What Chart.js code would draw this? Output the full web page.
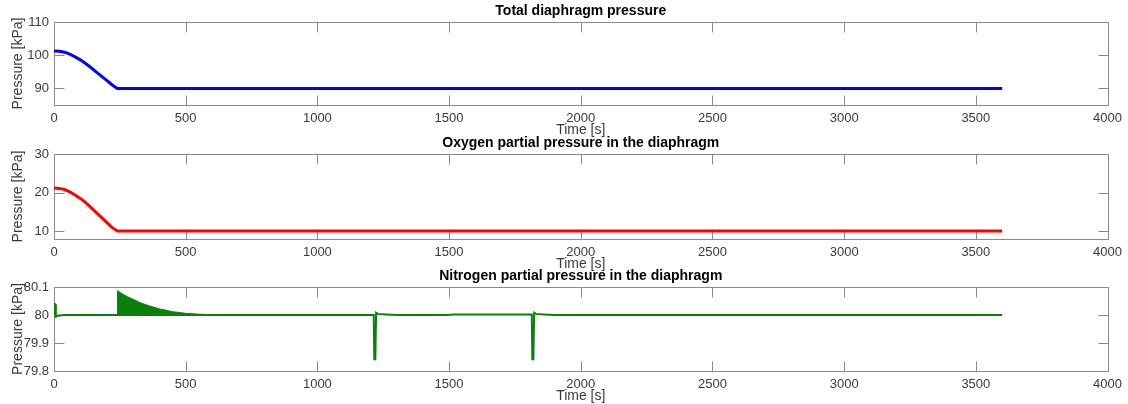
<!DOCTYPE html>
<html>
<head>
<meta charset="utf-8">
<script src="https://cdn.jsdelivr.net/npm/chart.js@4"></script>
<style>
  html, body { margin: 0; padding: 0; background: #fff; }
  body { width: 1128px; height: 404px; position: relative; overflow: hidden; }
  canvas { position: absolute; left: 0; }
</style>
</head>
<body>
<canvas id="chartTotal" width="1128" height="137" style="top:0"></canvas>
<canvas id="chartOxygen" width="1128" height="139" style="top:132px"></canvas>
<canvas id="chartNitrogen" width="1128" height="138" style="top:265px"></canvas>
<script>
// time axis shared by all panels
const xTicks = [0, 500, 1000, 1500, 2000, 2500, 3000, 3500, 4000];

// Total diaphragm pressure
const totalTime = [0, 20, 40, 60, 80, 100, 120, 140, 160, 180, 200, 220, 240, 3600];
const totalPressure = [101.3, 101.2, 100.9, 100.3, 99.5, 98.6, 97.5, 96.3, 95.0, 93.7, 92.4, 91.1, 90.0, 90.0];
const totalTicks = [90, 100, 110];

// Oxygen partial pressure
const oxygenTime = [0, 20, 40, 60, 80, 100, 120, 140, 160, 180, 200, 220, 240, 3600];
const oxygenPressure = [21.2, 21.1, 20.8, 20.2, 19.4, 18.5, 17.4, 16.2, 14.9, 13.6, 12.3, 11.0, 10.1, 10.1];
const oxygenTicks = [10, 20, 30];

// Nitrogen partial pressure
const nitrogenTime = [0, 1, 4, 7, 14, 40, 240, 1214, 1216, 1220, 1223, 1230, 1260, 1300, 1490, 1520, 1800, 1814, 1816, 1820, 1823, 1830, 1860, 1900, 3600];
const nitrogenPressure = [80.0, 80.038, 80.038, 79.994, 79.997, 80.0, 80.0, 80.0, 79.842, 79.842, 80.008, 80.004, 80.002, 80.0, 80.0, 80.002, 80.002, 80.002, 79.842, 79.842, 80.008, 80.004, 80.002, 80.0, 80.0];
// upper edge of the oscillation band after t = 240 s
const nitrogenBandTime = [240, 241, 260, 280, 300, 330, 360, 400, 450, 500, 550, 600];
const nitrogenBandTop = [80.0, 80.087, 80.075, 80.065, 80.056, 80.043, 80.033, 80.022, 80.012, 80.006, 80.003, 80.001];
const nitrogenTicks = [79.8, 79.9, 80.0, 80.1];

const BOX = "#8a8a8a";
const TEXT = "#3a3a3a";
const TICK_LEN = 10;

Chart.defaults.font.family = '"Liberation Sans", Arial, Helvetica, sans-serif';
Chart.defaults.font.size = 13;
Chart.defaults.color = TEXT;

function pts(xs, ys) { return xs.map((x, i) => ({ x: x, y: ys[i] })); }

// matlab-like box with inward ticks on all four sides
const framePlugin = {
  id: "frame",
  beforeDatasetsDraw(chart) {
    const { ctx, chartArea: a, scales: { x, y } } = chart;
    const L = Math.round(a.left) + 0.5, R = Math.round(a.right) + 0.5;
    const T = Math.round(a.top) + 0.5, B = Math.round(a.bottom) + 0.5;
    ctx.save();
    ctx.strokeStyle = BOX;
    ctx.lineWidth = 1;
    ctx.beginPath();
    x.ticks.forEach(t => {
      const px = Math.round(x.getPixelForValue(t.value)) + 0.5;
      ctx.moveTo(px, B); ctx.lineTo(px, B - TICK_LEN);
      ctx.moveTo(px, T); ctx.lineTo(px, T + TICK_LEN);
    });
    y.ticks.forEach(t => {
      const py = Math.round(y.getPixelForValue(t.value)) + 0.5;
      ctx.moveTo(L, py); ctx.lineTo(L + TICK_LEN, py);
      ctx.moveTo(R, py); ctx.lineTo(R - TICK_LEN, py);
    });
    ctx.rect(L, T, R - L, B - T);
    ctx.stroke();
    ctx.restore();
  }
};

function makePanel(id, title, datasets, yMin, yMax, yTicks) {
  return new Chart(document.getElementById(id), {
    type: "line",
    data: { datasets: datasets },
    options: {
      responsive: false,
      animation: false,
      layout: { padding: { left: 0, right: 20, top: 0, bottom: 0 } },
      elements: { point: { radius: 0 }, line: { tension: 0 } },
      plugins: {
        legend: { display: false },
        tooltip: { enabled: false },
        title: {
          display: true,
          text: title,
          fullSize: false,
          color: "#000",
          font: { size: 14, weight: "bold" },
          padding: { top: 2.6, bottom: 2.6 },
        },
      },
      scales: {
        x: {
          type: "linear",
          min: 0,
          max: 4000,
          afterBuildTicks: s => { s.ticks = xTicks.map(v => ({ value: v })); },
          afterFit: s => { s.height = 32; },
          grid: { display: false, drawTicks: false },
          border: { display: false },
          ticks: { padding: 6, autoSkip: false, maxRotation: 0, callback: v => String(v) },
          title: { display: true, text: "Time [s]", font: { size: 14 }, padding: { top: 0, bottom: -1.5 } },
        },
        y: {
          type: "linear",
          min: yMin,
          max: yMax,
          afterBuildTicks: s => { s.ticks = yTicks.map(v => ({ value: v })); },
          afterFit: s => { s.width = 54; },
          grid: { display: false, drawTicks: false },
          border: { display: false },
          ticks: { padding: 5, autoSkip: false, callback: v => String(v) },
          title: { display: true, text: "Pressure [kPa]", font: { size: 14 }, padding: { top: 10, bottom: 0 } },
        },
      },
    },
    plugins: [framePlugin],
  });
}

makePanel("chartTotal", "Total diaphragm pressure", [
  { data: pts(totalTime, totalPressure), borderColor: "#0000ff", borderWidth: 3, fill: false },
], 85, 110, totalTicks);

makePanel("chartOxygen", "Oxygen partial pressure in the diaphragm", [
  { data: pts(oxygenTime, oxygenPressure), borderColor: "#ff0000", borderWidth: 3, fill: false },
], 8, 30, oxygenTicks);

makePanel("chartNitrogen", "Nitrogen partial pressure in the diaphragm", [
  { data: pts(nitrogenBandTime, nitrogenBandTop), borderColor: "#0a800a", backgroundColor: "#0a800a", borderWidth: 1, fill: { value: 80.0 } },
  { data: pts(nitrogenTime, nitrogenPressure), borderColor: "#0a800a", borderWidth: 2, fill: false },
], 79.8, 80.1, nitrogenTicks);
</script>
</body>
</html>
